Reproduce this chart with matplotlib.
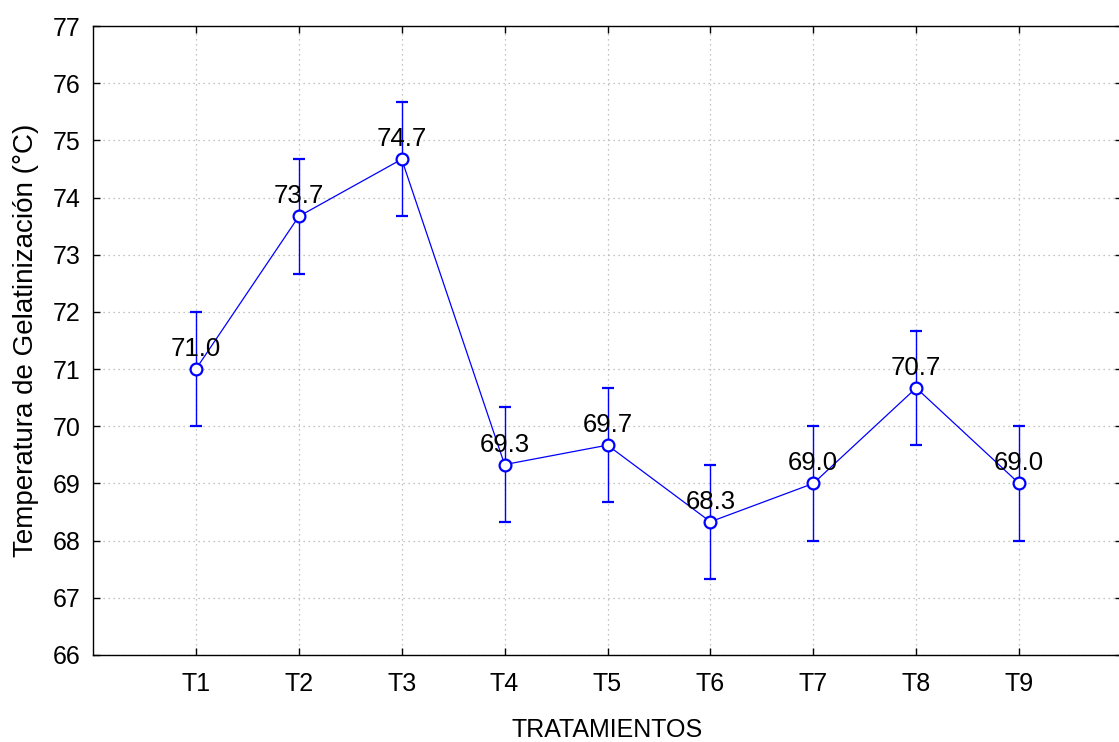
import matplotlib
matplotlib.use("Agg")
import matplotlib.pyplot as plt
import numpy as np

plt.rcParams["font.family"] = ["Liberation Sans", "DejaVu Sans"]

treatments = ["T1", "T2", "T3", "T4", "T5", "T6", "T7", "T8", "T9"]
temps = [71.0, 73.67, 74.67, 69.33, 69.67, 68.33, 69.0, 70.67, 69.0]
errors = [1.0, 1.0, 1.0, 1.0, 1.0, 1.0, 1.0, 1.0, 1.0]
y_ticks = list(range(66, 78))

fig = plt.figure(figsize=(11.19, 7.42), dpi=100)
ax = fig.add_axes([93 / 1119, 87 / 742, 1029 / 1119, 629 / 742])

x = np.arange(1, len(treatments) + 1)
ax.errorbar(x, temps, yerr=errors, color="#0000ff", lw=0.9, elinewidth=1.0,
            capsize=4, capthick=1.0, marker="o", markersize=8.5,
            markerfacecolor="white", markeredgecolor="#0000ff",
            markeredgewidth=1.6, zorder=3)

for xi, v in zip(x, temps):
    ax.annotate(f"{v:.1f}", xy=(xi, v), xytext=(0, 9.4),
                textcoords="offset points", ha="center", va="baseline",
                fontsize=18.5, color="black", zorder=4)

ax.set_xlim(0, 10)
ax.set_ylim(66, 77)
ax.set_xticks(x)
ax.set_xticklabels(treatments)
ax.set_yticks(y_ticks)
ax.tick_params(direction="in", length=5, width=1, labelsize=18,
               top=True, right=True)
ax.tick_params(axis="x", pad=12)
ax.tick_params(axis="y", pad=9)
ax.grid(True, ls=(0, (1, 3)), color="#b0b0b0", lw=0.9)
for s in ax.spines.values():
    s.set_linewidth(1.0)

ax.set_xlabel("TRATAMIENTOS", fontsize=18, labelpad=16)
ax.set_ylabel("Temperatura de Gelatinización (°C)", fontsize=20, labelpad=10)

fig.savefig("out.png", dpi=100, facecolor="white")
